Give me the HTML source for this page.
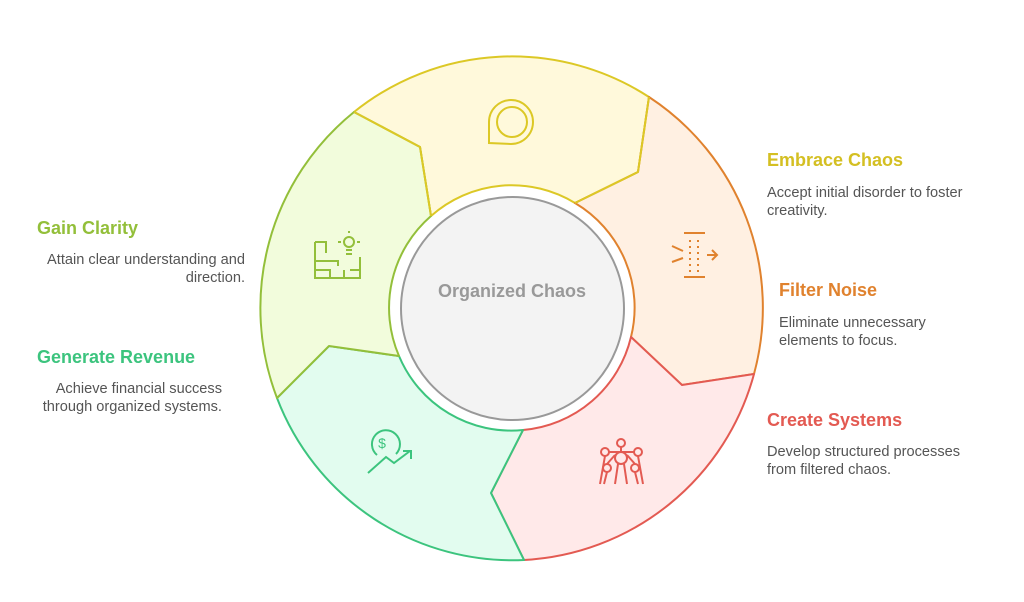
<!DOCTYPE html>
<html><head><meta charset="utf-8"><style>
body{margin:0;width:1024px;height:602px;background:#fff;overflow:hidden;font-family:"Liberation Sans",sans-serif}
.t{position:absolute;font-weight:bold;font-size:18px;white-space:nowrap}
.d{position:absolute;font-size:14.6px;color:#555;line-height:18px;white-space:nowrap}
</style></head><body>
<svg width="1024" height="602" style="position:absolute;left:0;top:0">
<g stroke-width="2" stroke-linejoin="round">
<path d="M354,112 A252,252 0 0 1 649,97 L638,172 L575,203 A121.5,121.5 0 0 0 431,216 L420,147 Z" fill="#fff9db" stroke="#dcc826"/>
<path d="M649,97 A252,252 0 0 1 754,374 L682,385 L631,337 A121.5,121.5 0 0 0 575,203 L638,172 Z" fill="#fff0e2" stroke="#e0822e"/>
<path d="M754,374 A252,252 0 0 1 524,560 L491,493 L523,430 A121.5,121.5 0 0 0 631,337 L682,385 Z" fill="#ffe9e9" stroke="#e35a52"/>
<path d="M524,560 A252,252 0 0 1 277,398 L329,346 L399,356 A121.5,121.5 0 0 0 523,430 L491,493 Z" fill="#e2fcef" stroke="#3cc47e"/>
<path d="M277,398 A252,252 0 0 1 354,112 L420,147 L431,216 A121.5,121.5 0 0 0 399,356 L329,346 Z" fill="#f2fcdc" stroke="#93bf3a"/>
<path d="M354,112 L420,147 L431,216" fill="none" stroke="#dcc826"/>
<path d="M649,97 L638,172 L575,203" fill="none" stroke="#dcc826"/>
</g>
<circle cx="512" cy="308.5" r="115" fill="#fff"/>
<circle cx="512.5" cy="308.5" r="111.5" fill="#f3f3f3" stroke="#999" stroke-width="2"/>
<text x="512" y="297" text-anchor="middle" font-family="Liberation Sans" font-weight="bold" font-size="18" fill="#999">Organized Chaos</text>
<g fill="none" stroke="#dcc826" stroke-width="2">
<path d="M489,143 L489,122 A22,22 0 1 1 511,144 Z"/>
<circle cx="512" cy="122" r="15"/>
</g>
<g fill="none" stroke="#e0822e" stroke-width="2">
<line x1="684" y1="233" x2="705" y2="233"/><line x1="684" y1="277" x2="705" y2="277"/>
<line x1="672" y1="246" x2="683" y2="251"/><line x1="672" y1="262" x2="683" y2="258"/>
<line x1="707" y1="255" x2="716" y2="255"/><path d="M712,250 L717,255 L712,260"/>
<g stroke-dasharray="2 4"><line x1="690" y1="240" x2="690" y2="272"/><line x1="698" y1="240" x2="698" y2="272"/></g>
</g>
<g fill="none" stroke="#93bf3a" stroke-width="2">
<path d="M315,242 H326 V253 M315,242 V278 H360 V257 M315,261 H338 V266 M315,270 H330 V278 M350,270 H360 M344,270 V278"/>
<circle cx="349" cy="242" r="5"/><line x1="346" y1="250" x2="352" y2="250"/><line x1="346" y1="254" x2="352" y2="254"/>
<line x1="338" y1="242" x2="341" y2="242"/><line x1="357" y1="242" x2="360" y2="242"/><line x1="349" y1="231" x2="349" y2="233"/>
</g>
<g fill="none" stroke="#3cc47e" stroke-width="2">
<path d="M377,455 A14,14 0 1 1 396,454"/>
<path d="M368,473 L386,457 L394,463 L410,451 M403,451 H411 V459"/>
<text x="382" y="448" text-anchor="middle" font-size="14" fill="#3cc47e" stroke="none" font-family="Liberation Sans">$</text>
</g>
<g fill="none" stroke="#e35a52" stroke-width="2">
<circle cx="621" cy="443" r="4"/><circle cx="605" cy="452" r="4"/><circle cx="638" cy="452" r="4"/>
<circle cx="621" cy="458" r="6"/><circle cx="607" cy="468" r="4"/><circle cx="635" cy="468" r="4"/>
<path d="M621,447 V452 M609,452 H634 M605,456 L600,484 M638,456 L643,484 M607,472 L604,484 M635,472 L638,484 M618,464 L615,484 M624,464 L627,484 M615,455 L607,464 M627,455 L635,464"/>
</g>
</svg>
<div class="t" style="left:767px;top:150px;color:#d4bf22">Embrace Chaos</div>
<div class="d" style="left:767px;top:184px">Accept initial disorder to foster<br>creativity.</div>
<div class="t" style="left:779px;top:280px;color:#e0822e">Filter Noise</div>
<div class="d" style="left:779px;top:314px">Eliminate unnecessary<br>elements to focus.</div>
<div class="t" style="left:767px;top:410px;color:#e35a52">Create Systems</div>
<div class="d" style="left:767px;top:443px">Develop structured processes<br>from filtered chaos.</div>
<div class="t" style="left:37px;top:218px;color:#93bf3a">Gain Clarity</div>
<div class="d" style="right:779px;top:251px;text-align:right">Attain clear understanding and<br>direction.</div>
<div class="t" style="left:37px;top:347px;color:#3cc47e">Generate Revenue</div>
<div class="d" style="right:802px;top:380px;text-align:right">Achieve financial success<br>through organized systems.</div>
</body></html>
